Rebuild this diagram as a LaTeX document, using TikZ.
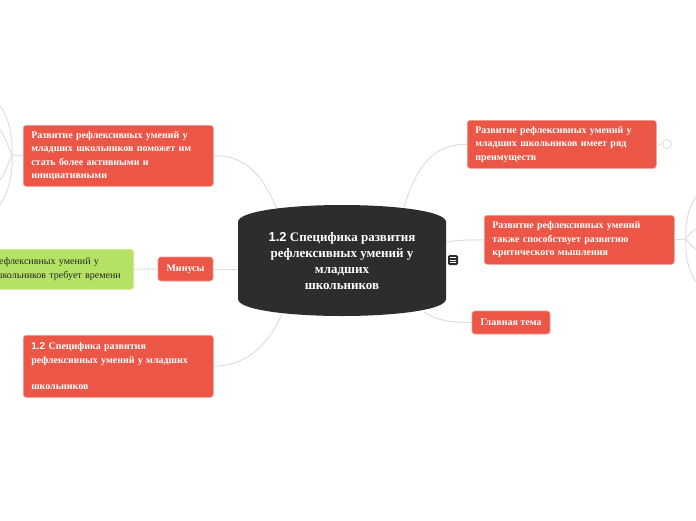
\documentclass[tikz,border=0pt]{standalone}
\usepackage{fontspec}
\setmainfont{Liberation Serif}
\newfontfamily\numfont{Liberation Sans}
\definecolor{mapRed}{HTML}{EB5646}
\definecolor{mapGreen}{HTML}{B5E264}
\definecolor{mapHub}{HTML}{2D2D2D}
\definecolor{mapLink}{HTML}{DCDCDC}
\usetikzlibrary{positioning, calc}

\begin{document}
\begin{tikzpicture}[x=1pt, y=-1pt,
    redbox/.style={rounded corners=3pt, fill=mapRed, draw=mapRed!60!white, line width=0.6pt,
      text=white, font=\bfseries\fontsize{10}{13.4}\selectfont, align=left,
      inner xsep=8pt, inner ysep=5pt, anchor=north west},
    greenbox/.style={rounded corners=3pt, fill=mapGreen, draw=mapGreen!70!white, line width=0.6pt,
      text=black!85, font=\fontsize{10}{13.4}\selectfont, align=left,
      inner xsep=8pt, inner ysep=5pt, anchor=north east},
    link/.style={draw=mapLink, line width=0.9pt}]
  \useasboundingbox (0,0) rectangle (696,520);
  \fill[white] (0,0) rectangle (696,520);

  % central topic
  \coordinate (c-l1) at (276,207);
  \coordinate (c-l3) at (282,314);
  \coordinate (c-r1) at (404,207);
  \coordinate (c-r3) at (424,312);
  \draw[link] (c-l1) -- (342,260);

  \node[redbox, text width=174pt, minimum height=61pt] (l1) at (23,125)
    {Развитие рефлексивных умений у\\младших школьников поможет им\\стать более активными и\\инициативными};
  \node[redbox, anchor=center, minimum width=55pt, minimum height=24pt, align=center] (minus) at (185.5,269) {Минусы};
  \node[greenbox, text width=173pt, minimum height=40pt] (green) at (134,249)
    {Развитие рефлексивных умений у\\младших школьников требует времени};
  \node[redbox, text width=174pt, minimum height=62pt] (l3) at (23,335)
    {{\numfont 1.2} Специфика развития\\рефлексивных умений у младших\\[13.4pt]школьников};

  \node[redbox, text width=173pt, minimum height=48pt] (r1) at (467,120)
    {Развитие рефлексивных умений у\\младших школьников имеет ряд\\преимуществ};
  \node[redbox, text width=174pt, minimum height=49pt] (r2) at (484,215)
    {Развитие рефлексивных умений\\также способствует развитию\\критического мышления};
  \node[redbox, anchor=center, minimum width=78pt, minimum height=23pt, align=center] (r3) at (511,322.5) {Главная тема};
  \node[circle, draw=mapLink, line width=0.8pt, minimum size=9pt, inner sep=0pt] (r1fold) at (667,144) {};

  % connectors
  \draw[link] (l1.east) .. controls (252,155) and (266,185) .. (c-l1);
  \draw[link] (l3.east) .. controls (252,365) and (270,340) .. (c-l3);
  \draw[link] (green.east) -- (minus.west);
  \draw[link] (minus.east) -- (244,269);
  \draw[link] (c-r1) .. controls (416,168) and (432,144) .. (r1.west);
  \draw[link] (r1.east) -- (r1fold.west);
  \draw[link] (440,243) .. controls (460,240) .. (r2.west);
  \draw[link] (c-r3) .. controls (440,322) and (452,322) .. (r3.west);

  % branches running off the page
  \coordinate (l1-hub) at (12,155);
  \coordinate (r2-hub) at (686,239);
  \draw[link] (l1.west) -- (l1-hub);
  \draw[link] (r2.east) -- (r2-hub);
  \foreach \ty/\bend in {103/14, 128/6, 182/6, 207/14} {
    \draw[link] (l1-hub) .. controls (\bend,{(155+\ty)/2}) and (2,\ty) .. (-4,\ty);
  }
  \foreach \ty/\bend in {194/684, 228/690, 250/690, 284/684} {
    \draw[link] (r2-hub) .. controls (\bend,{(239+\ty)/2}) and (694,\ty) .. (700,\ty);
  }

  \fill[mapHub] (238,222) .. controls (238,211) and (290,205) .. (342,205)
    .. controls (394,205) and (446,211) .. (446,222) -- (446,299)
    .. controls (446,310) and (394,316) .. (342,316)
    .. controls (290,316) and (238,310) .. (238,299) -- cycle;
  \node[text=white, font=\bfseries\fontsize{13}{16}\selectfont, align=center,
    minimum width=208pt, minimum height=110pt] (hub) at (342,261)
    {{\numfont 1.2} Специфика развития\\рефлексивных умений у\\младших\\школьников};

  % note icon
  \node[fill=mapHub, rounded corners=1.5pt, minimum size=10pt, inner sep=0pt] (note) at (453,260) {};
  \foreach \dy in {-2.6,0,2.6} {
    \draw[white, line width=0.8pt] ($(note.center)+(-2.6,\dy)$) -- ($(note.center)+(2.6,\dy)$);
  }
\end{tikzpicture}
\end{document}
